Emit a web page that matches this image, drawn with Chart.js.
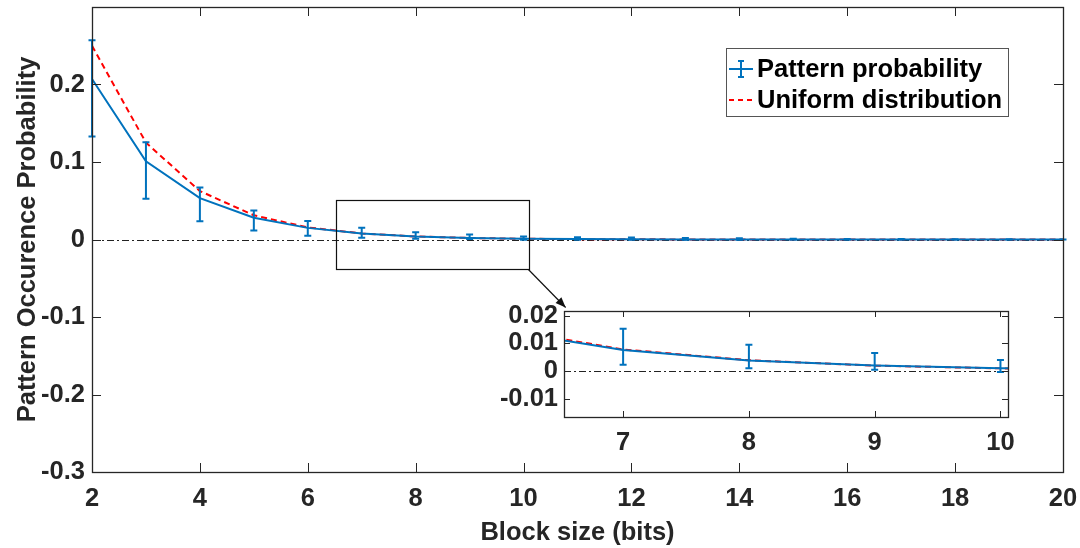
<!DOCTYPE html>
<html>
<head>
<meta charset="utf-8">
<script src="https://cdn.jsdelivr.net/npm/chart.js@4/dist/chart.umd.min.js"></script>
<style>
  html, body { margin: 0; padding: 0; background: #fff; }
  #wrap { position: relative; width: 1080px; height: 548px; }
  #main { position: absolute; left: 0; top: 0; }
  #inset { position: absolute; left: 480px; top: 300px; }
</style>
</head>
<body>
<div id="wrap">
  <canvas id="main" width="1080" height="548"></canvas>
  <canvas id="inset" width="560" height="160"></canvas>
</div>
<script>
// data
const blockSize = [2, 3, 4, 5, 6, 7, 8, 9, 10, 11, 12, 13, 14, 15, 16, 17, 18, 19, 20];
const patternMean = [0.207, 0.101, 0.0533, 0.028, 0.015, 0.0076, 0.0038, 0.002, 0.001, 0.0005,
  0.00025, 0.00012, 0.00006, 0.00003, 0.000015, 0.000008, 0.000004, 0.000002, 0.000001];
const errHigh = [0.257, 0.1256, 0.067, 0.0374, 0.024, 0.0153, 0.0095, 0.0065, 0.004, 0.003,
  0.0025, 0.002, 0.0015, 0.001, 0.0007, 0.0005, 0.0003, 0.0002, 0.0001];
const errLow = [0.133, 0.0525, 0.0237, 0.0116, 0.0047, 0.0023, 0.001, 0.0005, -0.0003, -0.0003,
  -0.0003, -0.0002, -0.0002, -0.0001, -0.0001, -0.0001, 0, 0, 0];
const uniformProb = [0.25, 0.125, 0.0625, 0.03125, 0.015625, 0.0078125, 0.00390625, 0.00195313,
  0.00097656, 0.00048828, 0.00024414, 0.00012207, 0.00006104, 0.00003052, 0.00001526,
  0.00000763, 0.00000381, 0.00000191, 0.00000095];

const mainXTicks = [2, 4, 6, 8, 10, 12, 14, 16, 18, 20];
const mainYTicks = [-0.3, -0.2, -0.1, 0, 0.1, 0.2];
const insetXTicks = [7, 8, 9, 10];
const insetYTicks = [-0.01, 0, 0.01, 0.02];

const seriesNames = ['Pattern probability', 'Uniform distribution'];
const xTitle = 'Block size (bits)';
const yTitle = 'Pattern Occurence Probability';

const BLUE = '#0072BD';
const RED = '#FF0000';
const AX = '#262626';
const FONT = { family: 'Liberation Sans, Arial, sans-serif', size: 25.5, weight: 'bold' };

const fmt = v => String(+Number(v).toFixed(4));
const pts = ys => blockSize.map((b, i) => ({ x: b, y: ys[i] }));

// zero line, dash-dot
const zeroLine = {
  id: 'zeroLine',
  beforeDatasetsDraw(chart) {
    const { ctx, chartArea: a, scales: { y } } = chart;
    const py = Math.round(y.getPixelForValue(0)) + 0.5;
    ctx.save();
    ctx.strokeStyle = '#222';
    ctx.lineWidth = 1;
    ctx.setLineDash([7, 3, 2, 3]);
    ctx.beginPath();
    ctx.moveTo(a.left, py);
    ctx.lineTo(a.right, py);
    ctx.stroke();
    ctx.restore();
  }
};

// error bars for the pattern series
const errorBars = {
  id: 'errorBars',
  afterDatasetsDraw(chart, args, opts) {
    const { ctx, chartArea: a, scales: { x, y } } = chart;
    ctx.save();
    ctx.beginPath();
    ctx.rect(a.left - 4, a.top - 4, a.right - a.left + 8, a.bottom - a.top + 8);
    ctx.clip();
    ctx.strokeStyle = BLUE;
    ctx.lineWidth = 2;
    const c = opts.cap;
    blockSize.forEach((b, i) => {
      if (b < x.min || b > x.max) return;
      const px = x.getPixelForValue(b);
      const hi = y.getPixelForValue(errHigh[i]);
      const lo = y.getPixelForValue(errLow[i]);
      ctx.beginPath();
      ctx.moveTo(px, hi); ctx.lineTo(px, lo);
      ctx.moveTo(px - c, hi); ctx.lineTo(px + c, hi);
      ctx.moveTo(px - c, lo); ctx.lineTo(px + c, lo);
      ctx.stroke();
    });
    ctx.restore();
  }
};

// matlab style box and inward ticks
const frame = {
  id: 'frame',
  beforeDraw(chart, args, opts) {
    if (!opts.fill) return;
    const { ctx, chartArea: a } = chart;
    ctx.save();
    ctx.fillStyle = '#fff';
    ctx.fillRect(a.left, a.top, a.right - a.left, a.bottom - a.top);
    ctx.restore();
  },
  afterDraw(chart, args, opts) {
    const { ctx, chartArea: a, scales: { x, y } } = chart;
    const L = opts.tick;
    ctx.save();
    ctx.strokeStyle = AX;
    ctx.lineWidth = 1;
    ctx.beginPath();
    x.ticks.forEach(t => {
      const px = Math.round(x.getPixelForValue(t.value)) + 0.5;
      ctx.moveTo(px, a.bottom); ctx.lineTo(px, a.bottom - L);
      ctx.moveTo(px, a.top); ctx.lineTo(px, a.top + L);
    });
    y.ticks.forEach(t => {
      const py = Math.round(y.getPixelForValue(t.value)) + 0.5;
      ctx.moveTo(a.left, py); ctx.lineTo(a.left + L, py);
      ctx.moveTo(a.right, py); ctx.lineTo(a.right - L, py);
    });
    ctx.stroke();
    ctx.lineWidth = 1.3;
    ctx.strokeRect(Math.round(a.left) + 0.5, Math.round(a.top) + 0.5,
      Math.round(a.right - a.left), Math.round(a.bottom - a.top));
    ctx.restore();
  }
};

// zoom rectangle, arrow and legend on the main axes
const extras = {
  id: 'extras',
  afterDraw(chart) {
    const { ctx, scales: { x, y } } = chart;
    ctx.save();
    // zoom box
    const x0 = x.getPixelForValue(6.52), x1 = x.getPixelForValue(10.09);
    const y0 = y.getPixelForValue(0.0507), y1 = y.getPixelForValue(-0.0387);
    ctx.strokeStyle = '#111';
    ctx.lineWidth = 1.2;
    ctx.strokeRect(Math.round(x0) + 0.5, Math.round(y0) + 0.5, Math.round(x1 - x0), Math.round(y1 - y0));
    // arrow
    const ax = x.getPixelForValue(10.78), ay = y.getPixelForValue(-0.0877);
    ctx.beginPath();
    ctx.moveTo(x1, y1);
    ctx.lineTo(ax, ay);
    ctx.stroke();
    const ang = Math.atan2(ay - y1, ax - x1);
    ctx.fillStyle = '#111';
    ctx.beginPath();
    ctx.moveTo(ax, ay);
    ctx.lineTo(ax - 11 * Math.cos(ang - 0.38), ay - 11 * Math.sin(ang - 0.38));
    ctx.lineTo(ax - 11 * Math.cos(ang + 0.38), ay - 11 * Math.sin(ang + 0.38));
    ctx.closePath();
    ctx.fill();

    // legend
    const lx = 726, ly = 48, lw = 282, lh = 68;
    ctx.fillStyle = '#fff';
    ctx.fillRect(lx, ly, lw, lh);
    ctx.strokeStyle = '#555';
    ctx.lineWidth = 1;
    ctx.strokeRect(lx + 0.5, ly + 0.5, lw, lh);
    const r1 = ly + 21, r2 = ly + 52;
    ctx.strokeStyle = BLUE;
    ctx.lineWidth = 2;
    ctx.beginPath();
    ctx.moveTo(lx + 3, r1); ctx.lineTo(lx + 27, r1);
    ctx.moveTo(lx + 15, r1 - 8); ctx.lineTo(lx + 15, r1 + 8);
    ctx.moveTo(lx + 12, r1 - 8); ctx.lineTo(lx + 18, r1 - 8);
    ctx.moveTo(lx + 12, r1 + 8); ctx.lineTo(lx + 18, r1 + 8);
    ctx.stroke();
    ctx.strokeStyle = RED;
    ctx.setLineDash([5, 4]);
    ctx.beginPath();
    ctx.moveTo(lx + 3, r2); ctx.lineTo(lx + 28, r2);
    ctx.stroke();
    ctx.setLineDash([]);
    ctx.fillStyle = '#000';
    ctx.font = 'bold 25.5px "Liberation Sans", Arial, sans-serif';
    ctx.textBaseline = 'middle';
    ctx.textAlign = 'left';
    ctx.fillText(seriesNames[0], lx + 31, r1 + 1);
    ctx.fillText(seriesNames[1], lx + 31, r2 + 1);
    ctx.restore();
  }
};

function datasets(clip) {
  return [
    { label: seriesNames[0], data: pts(patternMean), borderColor: BLUE, borderWidth: 2,
      pointRadius: 0, tension: 0, fill: false, clip: clip },
    { label: seriesNames[1], data: pts(uniformProb), borderColor: RED, borderWidth: 2,
      borderDash: [6, 4], pointRadius: 0, tension: 0, fill: false, clip: clip }
  ];
}

function axis(min, max, tickVals, pad, opts) {
  return Object.assign({
    type: 'linear', min: min, max: max,
    grid: { display: false, drawTicks: false },
    border: { display: false },
    afterBuildTicks: s => { s.ticks = tickVals.map(v => ({ value: v })); },
    ticks: { color: AX, font: FONT, padding: pad, callback: v => fmt(v), maxRotation: 0, autoSkip: false }
  }, opts);
}

new Chart(document.getElementById('main'), {
  type: 'line',
  data: { datasets: datasets(2) },
  options: {
    responsive: false,
    animation: false,
    layout: { padding: { left: 0, right: 17, top: 7, bottom: 0 } },
    plugins: {
      legend: { display: false },
      tooltip: { enabled: false },
      frame: { tick: 9 },
      errorBars: { cap: 3.5 }
    },
    scales: {
      x: axis(2, 20, mainXTicks, 12, {
        afterFit: s => { s.height = 76; s.paddingLeft = 0; s.paddingRight = 0; },
        title: { display: true, text: xTitle, color: AX, font: FONT, padding: { top: 3, bottom: 0 } }
      }),
      y: axis(-0.3, 0.3, mainYTicks, 7, {
        afterFit: s => { s.width = 92; s.paddingTop = 0; s.paddingBottom = 0; },
        title: { display: true, text: yTitle, color: AX, font: FONT, padding: { top: 13, bottom: 0 } }
      })
    }
  },
  plugins: [zeroLine, errorBars, frame, extras]
});
new Chart(document.getElementById('inset'), {
  type: 'line',
  data: { datasets: datasets(0) },
  options: {
    responsive: false,
    animation: false,
    layout: { padding: { left: 0, right: 32, top: 11, bottom: 0 } },
    plugins: {
      legend: { display: false },
      tooltip: { enabled: false },
      frame: { tick: 6, fill: true },
      errorBars: { cap: 3.5 }
    },
    scales: {
      x: axis(6.53, 10.06, insetXTicks, 11, {
        afterFit: s => { s.height = 43; s.paddingLeft = 0; s.paddingRight = 0; }
      }),
      y: axis(-0.0166, 0.0217, insetYTicks, 6, {
        afterFit: s => { s.width = 84; s.paddingTop = 0; s.paddingBottom = 0; }
      })
    }
  },
  plugins: [zeroLine, errorBars, frame]
});
</script>
</body>
</html>
